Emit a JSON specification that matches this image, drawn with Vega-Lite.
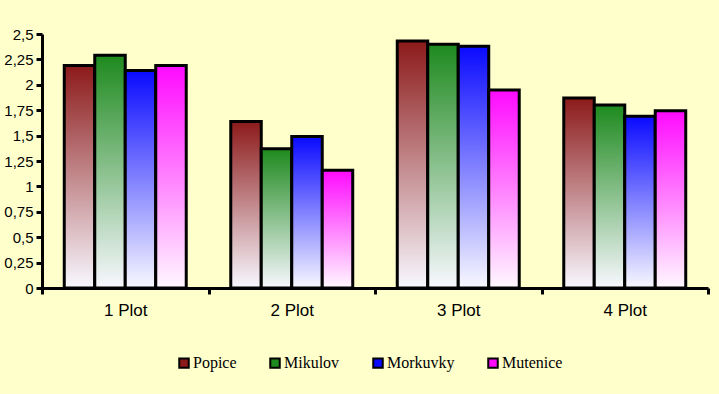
{
  "$schema": "https://vega.github.io/schema/vega-lite/v6.json",
  "autosize": "none",
  "width": 666,
  "height": 254,
  "padding": {"left": 42, "top": 34, "right": 11, "bottom": 106},
  "background": "#FFFFCC",
  "config": {
    "view": {"stroke": null, "fill": "#FFFFCC"},
    "axis": {"labelFont": "Liberation Sans", "labelColor": "#000000", "domainColor": "#000000", "tickColor": "#000000", "domainWidth": 3, "tickWidth": 3, "grid": false, "title": null}
  },
  "data": {
    "values": [
      {"plot": "1 Plot", "series": "Popice", "value": 2.19},
      {"plot": "1 Plot", "series": "Mikulov", "value": 2.29},
      {"plot": "1 Plot", "series": "Morkuvky", "value": 2.14},
      {"plot": "1 Plot", "series": "Mutenice", "value": 2.19},
      {"plot": "2 Plot", "series": "Popice", "value": 1.64},
      {"plot": "2 Plot", "series": "Mikulov", "value": 1.37},
      {"plot": "2 Plot", "series": "Morkuvky", "value": 1.49},
      {"plot": "2 Plot", "series": "Mutenice", "value": 1.16},
      {"plot": "3 Plot", "series": "Popice", "value": 2.43},
      {"plot": "3 Plot", "series": "Mikulov", "value": 2.40},
      {"plot": "3 Plot", "series": "Morkuvky", "value": 2.38},
      {"plot": "3 Plot", "series": "Mutenice", "value": 1.95},
      {"plot": "4 Plot", "series": "Popice", "value": 1.87},
      {"plot": "4 Plot", "series": "Mikulov", "value": 1.80},
      {"plot": "4 Plot", "series": "Morkuvky", "value": 1.69},
      {"plot": "4 Plot", "series": "Mutenice", "value": 1.745}
    ]
  },
  "encoding": {
    "x": {
      "field": "plot", "type": "nominal",
      "scale": {"paddingInner": 0, "paddingOuter": 0},
      "axis": {"labelAngle": 0, "labelFontSize": 17, "tickBand": "extent", "tickSize": 6, "labelPadding": 8}
    },
    "xOffset": {"field": "series", "type": "nominal", "sort": ["Popice", "Mikulov", "Morkuvky", "Mutenice"], "scale": {"paddingInner": 0, "paddingOuter": 0.73}},
    "y": {
      "field": "value", "type": "quantitative",
      "scale": {"domain": [0, 2.5], "nice": false},
      "axis": {"values": [0, 0.25, 0.5, 0.75, 1, 1.25, 1.5, 1.75, 2, 2.25, 2.5], "labelExpr": "replace(toString(datum.value), '.', ',')", "labelFontSize": 15, "tickSize": 6, "labelPadding": 3}
    }
  },
  "layer": [
    {
      "mark": {"type": "bar", "opacity": 0},
      "encoding": {
        "color": {
          "field": "series", "type": "nominal",
          "sort": ["Popice", "Mikulov", "Morkuvky", "Mutenice"],
          "scale": {"range": ["#8C1A1A", "#1E8A1E", "#0A0AFF", "#FF0AFF"]},
          "legend": {
            "title": null, "orient": "none", "direction": "horizontal", "columns": 4,
            "legendX": 134, "legendY": 321,
            "symbolType": "square", "symbolSize": 90, "symbolStrokeColor": "#000000", "symbolStrokeWidth": 2, "symbolOpacity": 1,
            "labelFont": "Liberation Serif", "labelFontSize": 16, "labelColor": "#000000", "labelOffset": 1,
            "columnPadding": 29
          }
        }
      }
    },
    {
      "mark": {
        "type": "bar", "stroke": "#000000", "strokeWidth": 3,
        "fill": {"expr": "{gradient: 'linear', x1: 0, y1: 0, x2: 0, y2: 1, stops: [{offset: 0, color: datum.series === 'Popice' ? '#8C1A1A' : datum.series === 'Mikulov' ? '#1E8A1E' : datum.series === 'Morkuvky' ? '#0A0AFF' : '#FF0AFF'}, {offset: 1, color: datum.series === 'Mutenice' ? '#FFF8FF' : '#F8F8FF'}]}"}
      }
    }
  ]
}
